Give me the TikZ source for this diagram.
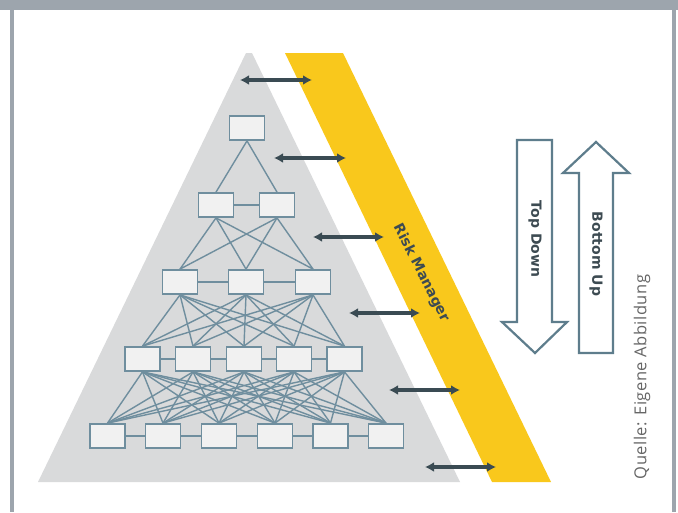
\documentclass[tikz,border=0pt]{standalone}
\usepackage{fontspec}
\setmainfont{DejaVu Sans}
\newfontfamily\quellefont[LetterSpace=3]{Open Sans}
\usetikzlibrary{arrows.meta}
\definecolor{framegray}{HTML}{9DA5AD}
\definecolor{trigray}{HTML}{D9DADB}
\definecolor{riskyellow}{HTML}{F9C81C}
\definecolor{netblue}{HTML}{6F8E9E}
\definecolor{boxfill}{HTML}{F1F1F1}
\definecolor{arrowdark}{HTML}{3A4B53}
\definecolor{outlineblue}{HTML}{5E7D8C}
\definecolor{textdark}{HTML}{3D4B52}
\definecolor{quellegray}{HTML}{666666}
\begin{document}
\begin{tikzpicture}[x=1pt,y=-1pt,
  netbox/.style={draw=netblue,fill=boxfill,line width=1.8pt,minimum width=35pt,minimum height=24pt,inner sep=0pt},
  netline/.style={draw=netblue,line width=1.4pt},
  dblarrow/.style={draw=arrowdark,line width=3.4pt,{Latex[length=9pt,width=10pt]}-{Latex[length=9pt,width=10pt]}},
  bigarrow/.style={draw=outlineblue,fill=white,line width=2.2pt,line join=miter},
  bigtext/.style={text=textdark,font=\fontsize{14}{14}\selectfont\bfseries,inner sep=0pt},
  quelle/.style={text=quellegray,font=\quellefont\fontsize{16.5}{17}\selectfont,inner sep=0pt}]
\useasboundingbox (0,0) rectangle (678,512);
\fill[white] (0,0) rectangle (678,512);
% frame
\fill[framegray] (0,0) rectangle (678,10);
\fill[framegray] (9.5,10) rectangle (13.5,512);
\fill[framegray] (672,10) rectangle (676,512);
% pyramid and risk manager band
\fill[trigray] (246,53) -- (252,53) -- (460,482) -- (38,482) -- cycle;
\fill[riskyellow] (285,53) -- (343,53) -- (551,482) -- (492,482) -- cycle;
% network boxes
\node[netbox] (n1) at (247,128) {};
\node[netbox] (n21) at (216,205) {};
\node[netbox] (n22) at (277,205) {};
\node[netbox] (n31) at (180,282) {};
\node[netbox] (n32) at (246,282) {};
\node[netbox] (n33) at (313,282) {};
\node[netbox] (n41) at (142.5,359) {};
\node[netbox] (n42) at (193,359) {};
\node[netbox] (n43) at (244,359) {};
\node[netbox] (n44) at (294,359) {};
\node[netbox] (n45) at (344.5,359) {};
\node[netbox] (n51) at (107.5,436) {};
\node[netbox] (n52) at (163,436) {};
\node[netbox] (n53) at (219,436) {};
\node[netbox] (n54) at (275,436) {};
\node[netbox] (n55) at (330.5,436) {};
\node[netbox] (n56) at (386,436) {};
% connections
\draw[netline] (n1.south) -- (n21.north);
\draw[netline] (n1.south) -- (n22.north);
\draw[netline] (n21.east) -- (n22.west);
\foreach \i in {1,2}{\foreach \j in {1,2,3}{\draw[netline] (n2\i.south) -- (n3\j.north);}}
\draw[netline] (n31.east) -- (n32.west);
\draw[netline] (n32.east) -- (n33.west);
\foreach \i in {1,2,3}{\foreach \j in {1,...,5}{\draw[netline] (n3\i.south) -- (n4\j.north);}}
\foreach \i/\j in {1/2,2/3,3/4,4/5}{\draw[netline] (n4\i.east) -- (n4\j.west);}
\foreach \i in {1,...,5}{\foreach \j in {1,...,6}{\draw[netline] (n4\i.south) -- (n5\j.north);}}
\foreach \i/\j in {1/2,2/3,3/4,4/5,5/6}{\draw[netline] (n5\i.east) -- (n5\j.west);}
% double arrows between pyramid and risk manager
\coordinate (a1l) at (240,80);  \coordinate (a1r) at (312,80);
\coordinate (a2l) at (274,158); \coordinate (a2r) at (346,158);
\coordinate (a3l) at (313,237); \coordinate (a3r) at (384,237);
\coordinate (a4l) at (349,313); \coordinate (a4r) at (420,313);
\coordinate (a5l) at (389,390); \coordinate (a5r) at (460,390);
\coordinate (a6l) at (425,467); \coordinate (a6r) at (496,467);
\foreach \k in {1,...,6}{\draw[dblarrow] (a\k l) -- (a\k r);}
% risk manager label
\node[bigtext,rotate=-63] (rm) at (421,273) {Risk Manager};
% top down / bottom up arrows
\draw[bigarrow] (517,140) -- (552,140) -- (552,322) -- (567,322) -- (535,353) -- (502,322) -- (517,322) -- cycle;
\draw[bigarrow] (579,353) -- (613,353) -- (613,173) -- (629,173) -- (596,142) -- (563,173) -- (579,173) -- cycle;
\node[bigtext,rotate=-90] (td) at (535,239) {Top Down};
\node[bigtext,rotate=-90] (bu) at (596,254) {Bottom Up};
% source
\node[quelle,rotate=90] (q) at (642,377) {Quelle: Eigene Abbildung};
\end{tikzpicture}
\end{document}
